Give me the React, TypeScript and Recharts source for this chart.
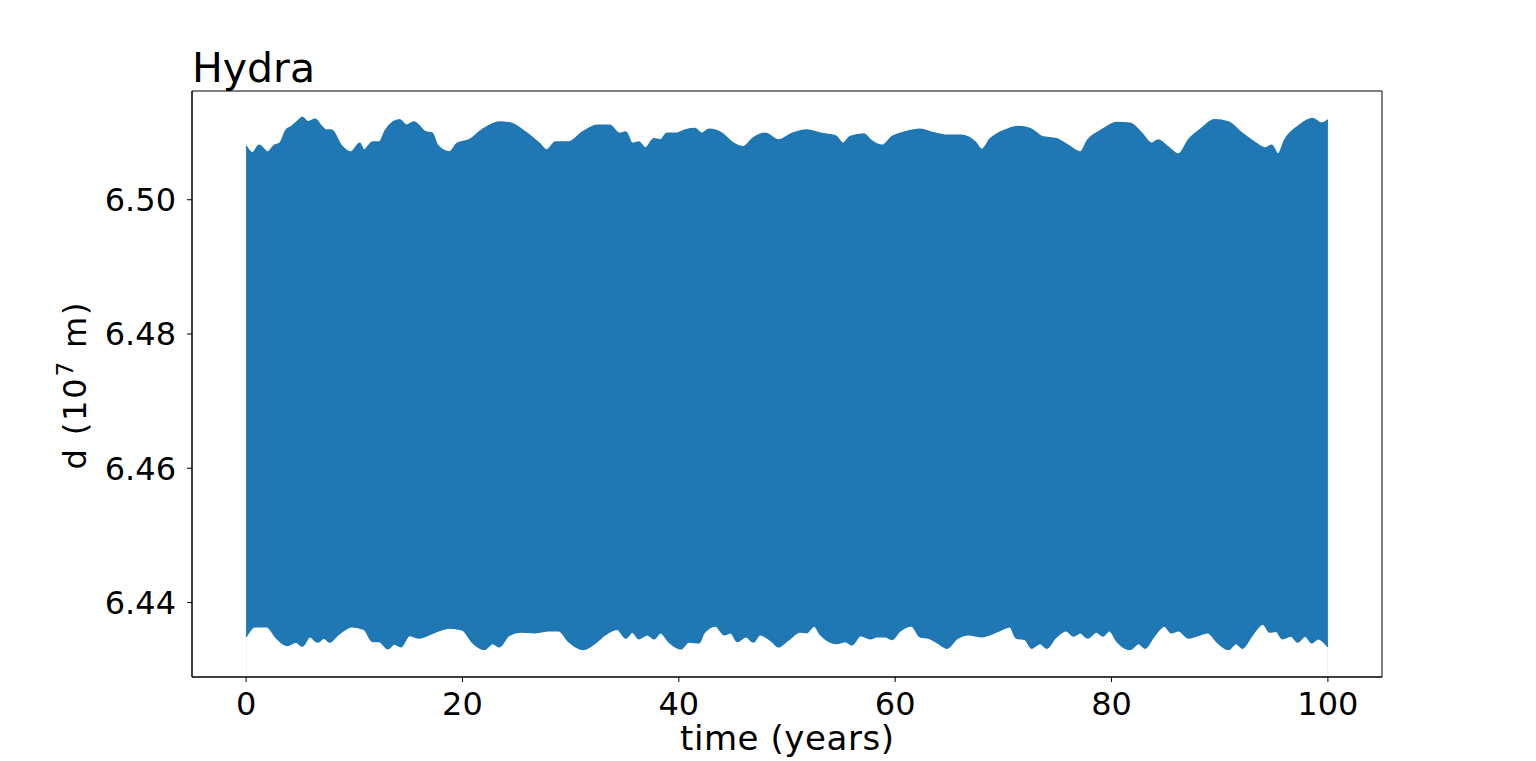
import { ComposedChart, Area, XAxis, YAxis, ReferenceArea } from 'recharts'

// upper edge of the oscillation band (time in years, d in 1e7 m)
const upperTime = [
  0, 0.6, 1.2, 2.0, 2.6, 3.1, 3.7, 4.2, 4.9, 5.2, 5.7, 6.4, 6.9, 7.4, 7.9, 8.8, 9.7, 10.5, 10.9, 11.7,
  12.3, 12.9, 14.2, 14.8, 15.5, 16.6, 17.2, 17.7, 18.8, 19.5, 20.6, 21.8, 23.4, 24.5, 25.8, 27.1, 27.8,
  28.6, 29.8, 31.1, 32.5, 33.6, 34.5, 35.1, 35.7, 36.3, 36.9, 37.7, 38.3, 38.9, 39.8, 40.6, 41.5, 42.1,
  42.8, 44.0, 44.9, 46.0, 46.8, 48.0, 49.2, 50.5, 51.8, 53.1, 54.5, 55.2, 55.8, 57.1, 57.8, 58.8, 59.7,
  60.9, 62.3, 63.5, 64.8, 66.1, 67.4, 68.0, 68.8, 69.5, 70.2, 71.4, 72.5, 73.6, 74.9, 76.0, 77.1, 77.8,
  79.1, 80.5, 81.7, 82.8, 83.7, 84.3, 85.2, 86.2, 87.1, 88.3, 89.5, 90.8, 92.0, 93.2, 94.2, 94.8, 95.4,
  96.0, 97.2, 98.6, 99.4, 100,
]
const upperDist = [
  6.508, 6.507, 6.5081, 6.5071, 6.5081, 6.5084, 6.5104, 6.5109, 6.5119, 6.5123, 6.5116, 6.512, 6.5111,
  6.5104, 6.5104, 6.5081, 6.5071, 6.5084, 6.5074, 6.5086, 6.5086, 6.5104, 6.5119, 6.5111, 6.5116, 6.5101,
  6.5099, 6.5081, 6.5071, 6.5084, 6.5089, 6.5104, 6.5116, 6.5114, 6.5101, 6.5084, 6.5074, 6.5086, 6.5086,
  6.5101, 6.5111, 6.5111, 6.5099, 6.5101, 6.5084, 6.5086, 6.5077, 6.5091, 6.5089, 6.5099, 6.5099, 6.5104,
  6.5106, 6.5099, 6.5105, 6.5099, 6.5086, 6.5079, 6.5091, 6.5099, 6.5089, 6.5099, 6.5104, 6.5099, 6.5095,
  6.5084, 6.5094, 6.5098, 6.5088, 6.5081, 6.5094, 6.5101, 6.5105, 6.51, 6.5096, 6.5096, 6.5086, 6.5075,
  6.5091, 6.5099, 6.5104, 6.5109, 6.5106, 6.5094, 6.5091, 6.5081, 6.5071, 6.5089, 6.5104, 6.5115, 6.5114,
  6.5099, 6.5084, 6.5089, 6.5079, 6.5068, 6.5089, 6.5106, 6.5119, 6.5116, 6.51, 6.5086, 6.5077, 6.5081,
  6.5068, 6.5089, 6.5109, 6.5121, 6.5114, 6.5119,
]

// lower edge of the band
const lowerTime = [
  0, 0.8, 1.9, 2.8, 3.8, 4.6, 5.2, 5.9, 6.6, 7.2, 7.7, 8.5, 9.8, 10.9, 11.7, 12.3, 13.1, 13.7, 14.3,
  15.1, 16.0, 17.5, 18.8, 20.0, 20.9, 22.0, 22.8, 23.4, 24.3, 25.4, 26.6, 28.0, 28.9, 29.8, 31.2, 32.3,
  33.2, 34.3, 35.1, 35.7, 36.3, 37.1, 37.7, 38.3, 39.1, 40.2, 40.9, 41.9, 42.3, 43.4, 44.2, 44.8, 45.4,
  46.2, 46.9, 47.5, 48.6, 49.2, 50.1, 51.2, 51.8, 52.5, 53.1, 54.6, 55.4, 56.0, 56.8, 57.7, 58.3, 59.1,
  59.7, 60.4, 61.5, 62.3, 63.1, 64.0, 64.8, 65.7, 66.8, 68.0, 69.5, 70.6, 71.2, 72.0, 72.6, 73.4, 74.0,
  74.8, 75.8, 76.5, 77.1, 77.8, 78.6, 79.2, 79.8, 80.5, 81.7, 82.5, 83.1, 83.9, 84.9, 85.5, 86.2, 87.1,
  88.2, 88.9, 89.7, 90.8, 91.5, 92.1, 92.9, 94.0, 94.6, 95.2, 95.8, 96.6, 97.2, 97.9, 98.5, 99.1, 100,
]
const lowerDist = [
  6.4349, 6.4364, 6.4364, 6.4347, 6.4336, 6.4341, 6.4335, 6.4349, 6.4341, 6.4347, 6.4341, 6.4352, 6.4364,
  6.436, 6.4342, 6.4342, 6.4331, 6.4338, 6.4334, 6.4351, 6.4347, 6.4356, 6.4362, 6.4359, 6.4341, 6.433,
  6.4339, 6.4334, 6.4351, 6.4356, 6.4355, 6.4358, 6.4358, 6.4342, 6.433, 6.434, 6.4352, 6.436, 6.4347,
  6.4356, 6.4346, 6.4352, 6.4346, 6.4355, 6.4341, 6.4331, 6.4341, 6.434, 6.4354, 6.4365, 6.4352, 6.4355,
  6.4342, 6.4349, 6.4341, 6.4352, 6.4342, 6.4334, 6.4344, 6.4356, 6.4355, 6.4365, 6.4352, 6.4339, 6.4342,
  6.4337, 6.4351, 6.4346, 6.4349, 6.4349, 6.4345, 6.4357, 6.4365, 6.4349, 6.4347, 6.4339, 6.4332, 6.4346,
  6.4352, 6.4349, 6.4357, 6.4364, 6.4347, 6.4345, 6.4332, 6.4339, 6.4332, 6.4347, 6.4358, 6.435, 6.4355,
  6.4347, 6.4356, 6.435, 6.4358, 6.4342, 6.433, 6.4339, 6.4332, 6.4349, 6.4365, 6.4355, 6.4358, 6.4347,
  6.4352, 6.4355, 6.4342, 6.433, 6.4339, 6.4332, 6.4349, 6.4368, 6.4356, 6.4357, 6.4346, 6.435, 6.4341,
  6.435, 6.434, 6.4346, 6.4334,
]

const xTicks = [0, 20, 40, 60, 80, 100]
const yTicks = [6.44, 6.46, 6.48, 6.5]

const Y_MIN = 6.4289
const Y_MAX = 6.5162
const BLUE = '#1f77b4'
const FONT = '"DejaVu Sans", sans-serif'

const rows: Array<{ t: number; upper?: number; lower?: number }> = [
  ...upperTime.map((t, i) => ({ t, upper: upperDist[i] })),
  ...lowerTime.map((t, i) => ({ t, lower: lowerDist[i] })),
].sort((a, b) => a.t - b.t)

export default function App() {
  const tickStyle = { fontSize: 32, fill: '#000', fontFamily: FONT }
  return (
    <div style={{ position: 'absolute', left: 0, top: 0, width: 1536, height: 761, background: '#fff' }}>
      <ComposedChart width={1536} height={761} data={rows} margin={{ top: 91, right: 154, bottom: 0, left: 0 }}>
        <XAxis
          dataKey="t"
          type="number"
          domain={[-5, 105]}
          ticks={xTicks}
          interval={0}
          allowDataOverflow
          height={84}
          tickSize={5}
          tickMargin={10}
          tick={tickStyle}
          axisLine={{ stroke: '#000' }}
          tickLine={{ stroke: '#000' }}
        />
        <YAxis
          type="number"
          domain={[Y_MIN, Y_MAX]}
          ticks={yTicks}
          interval={0}
          allowDataOverflow
          width={192}
          tickSize={5}
          tickMargin={11}
          tick={tickStyle}
          tickFormatter={(v: number) => v.toFixed(2)}
          axisLine={{ stroke: '#000' }}
          tickLine={{ stroke: '#000' }}
        />
        <Area
          dataKey="upper"
          type="monotone"
          connectNulls
          baseValue={Y_MIN}
          fill={BLUE}
          fillOpacity={1}
          stroke={BLUE}
          strokeWidth={1.5}
          dot={false}
          activeDot={false}
          isAnimationActive={false}
        />
        <Area
          dataKey="lower"
          type="monotone"
          connectNulls
          baseValue={Y_MIN}
          fill="#fff"
          fillOpacity={1}
          stroke={BLUE}
          strokeWidth={1.5}
          dot={false}
          activeDot={false}
          isAnimationActive={false}
        />
        <ReferenceArea
          x1={-5}
          x2={105}
          y1={Y_MIN}
          y2={Y_MAX}
          fill="none"
          fillOpacity={0}
          stroke="#000"
          strokeWidth={1}
          ifOverflow="visible"
        />
      </ComposedChart>
      <svg
        width={1536}
        height={761}
        style={{ position: 'absolute', left: 0, top: 0, pointerEvents: 'none' }}
        fontFamily={FONT}
      >
        <text x={192} y={82} fontSize={41} fill="#000">Hydra</text>
        <text
          x={787}
          y={750}
          fontSize={34}
          fill="#000"
          textAnchor="middle"
          textLength={214}
          lengthAdjust="spacing"
        >
          time (years)
        </text>
        <text
          x={86}
          y={386}
          fontSize={32}
          fill="#000"
          textAnchor="middle"
          textLength={167}
          lengthAdjust="spacing"
          transform="rotate(-90, 86, 386)"
        >
          d (10<tspan dy={-13} fontSize={23}>7</tspan>
          <tspan dy={13}> m)</tspan>
        </text>
      </svg>
    </div>
  )
}
